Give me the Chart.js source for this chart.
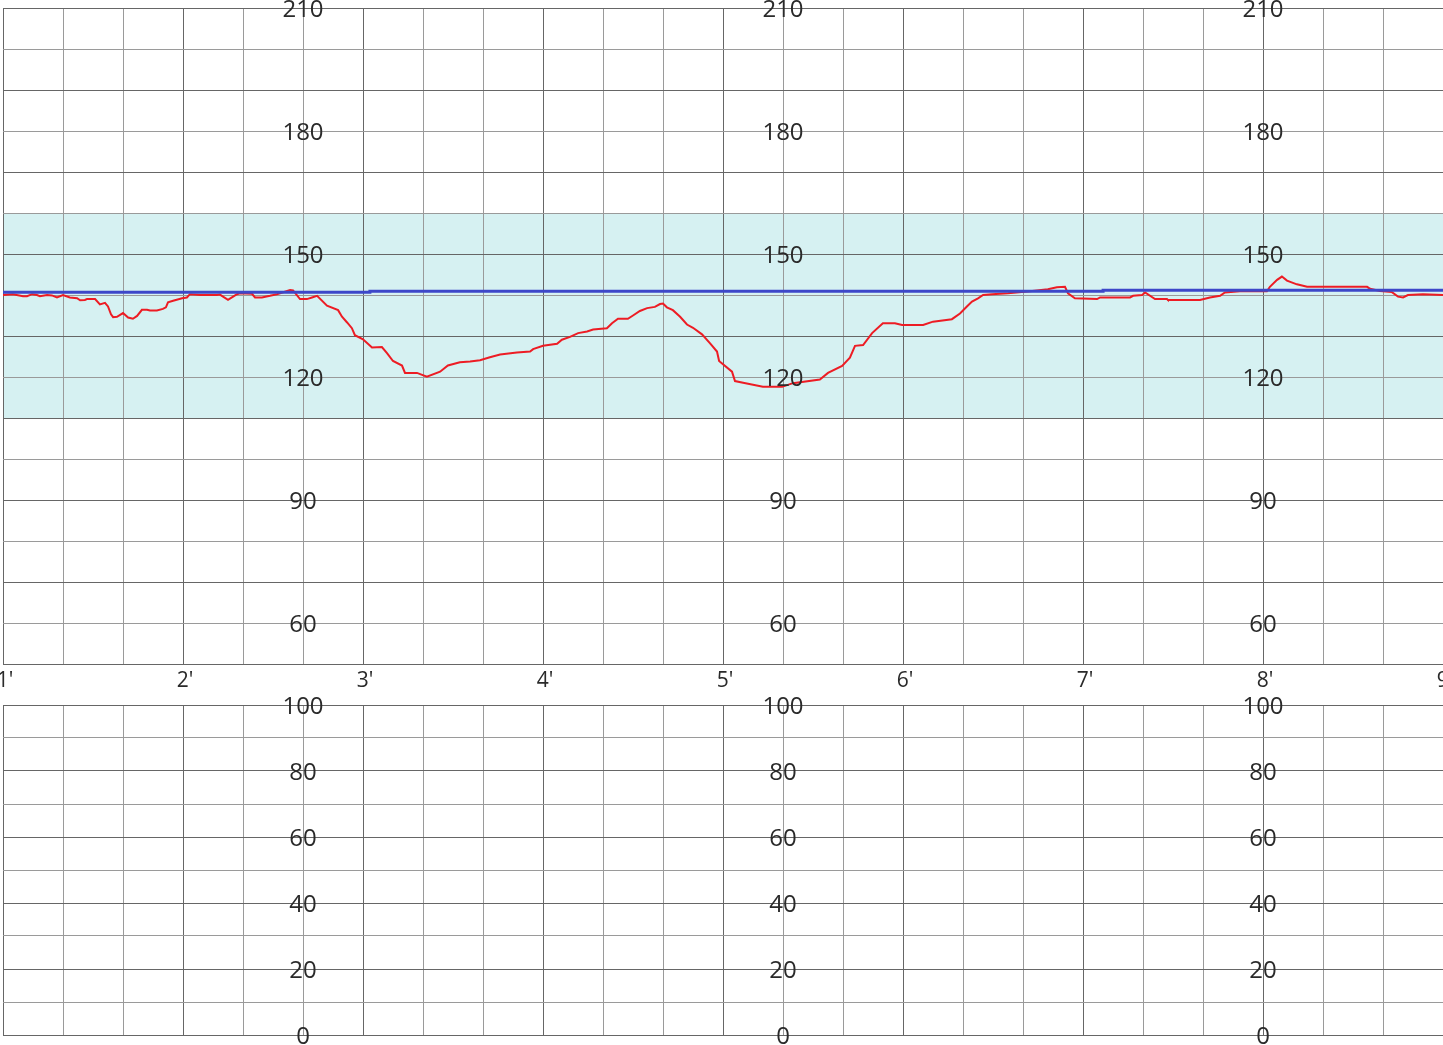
<!DOCTYPE html>
<html>
<head>
<meta charset="utf-8">
<script src="https://cdn.jsdelivr.net/npm/chart.js@4/dist/chart.umd.min.js"></script>
<style>
  html, body { margin: 0; padding: 0; background: #fff; overflow: hidden; }
  body { width: 1443px; height: 1045px; position: relative; }
  canvas { position: absolute; left: 0; }
  #fhr { top: 0; }
  #uc { top: 695px; }
</style>
</head>
<body>
<canvas id="fhr" width="1443" height="695"></canvas>
<canvas id="uc" width="1443" height="350"></canvas>
<script>
// ---- data (time in seconds, values in bpm) ----
const fhrTime = [60,63.3,66.7,68,69.7,71.3,72.3,74.7,76.3,78,80,82.3,84.7,85.7,87.3,88,90.7,92.3,94,95,96,96.7,98,100,101.7,103.3,104.7,106.3,108,109,111.3,113.3,114.3,115,116.7,119.7,121.3,122.3,125.7,131.3,132.3,135,136.7,138,139,143,144,146.3,149,151.3,155.7,156.7,159,161.3,163,164.7,168,171.7,173,174.7,176.3,177.3,180,183,186.3,188,190,193,194,198,201.3,205.7,208.3,212.3,215.7,219,222.3,225.7,231.3,235.7,236.7,240,244.7,246.3,249,251.7,254.7,256.7,261.3,263,265,268.3,270,272.3,274.7,277.3,279,280,281.3,283.3,285.7,288,290,293,295.7,298,298.7,299,303,304,306.7,313.3,319.7,323.3,332.3,335,339.7,342.3,344,346.7,349.7,353.3,357.3,359.7,366.7,370,376.3,379,381.3,383,385,386.7,389.7,395,402.3,408.3,411.3,414,415,417.3,424.7,425.7,435.7,436.7,439.7,440.7,444,448,448.3,459,462.3,465.7,467.3,472.3,481.3,482.3,484.7,486.3,488,491.3,494.7,514.7,515.7,519,523,525,526.7,528.3,533.3,540];
const fhrValue = [140,140.2,139.7,139.7,140.2,140,139.7,140,139.9,139.4,140,139.4,139.2,138.7,138.8,139,139,137.7,138.1,137.2,135.3,134.6,134.7,135.6,134.5,134.2,134.9,136.4,136.4,136.2,136.2,136.6,137,138.2,138.6,139.2,139.4,140.2,140,140,140.1,138.8,139.6,140.2,140.4,140.3,139.4,139.4,139.8,140.2,141.2,141.1,139,139,139.4,139.8,137.4,136.3,134.7,133.3,131.9,130.2,129.2,127.2,127.3,125.8,123.9,122.8,121,121,120.1,121.3,122.8,123.6,123.8,124.1,124.8,125.5,126,126.2,126.8,127.6,128.1,129.1,129.8,130.7,131.1,131.6,131.9,133.1,134.2,134.2,135,136.1,136.8,137.1,137.8,137.9,137,136.3,134.7,132.8,132,130.4,128.2,126.2,123.9,123.7,121.3,119,118.6,117.6,117.6,118.5,119.4,121,122.7,124.7,127.6,127.8,130.7,133.1,133.1,132.7,132.7,133.5,134.1,135.5,137.2,138.4,139.2,140,140.2,140.4,140.9,141.4,141.9,142,140.4,139.2,139,139.4,139.4,139.8,140,140.6,139,139,138.8,138.8,139.4,139.8,140.6,140.9,140.9,142,143.7,144.5,143.5,142.6,142,142,141.5,141,140.7,139.6,139.4,140,140.2,140];
const baseTime = [60,182.3,426.7,540];
const baseValue = [140.7,140.9,141.15,141.15];
const minuteLabels = ["1'","2'","3'","4'","5'","6'","7'","8'","9'"];
const minuteTimes = [60,120,180,240,300,360,420,480,540];
const fhrTickLabels = [60,90,120,150,180,210];
const ucTickLabels = [0,20,40,60,80,100];
const labelTimes = [160,320,480];
const normalBand = [110,160];

const DARK = '#666666', LIGHT = '#9a9a9a';
const FONT = "'Open Sans', 'Noto Sans', sans-serif";

function xScaleOpts() {
  return {
    type: 'linear', min: 60, max: 540,
    ticks: { display: false, stepSize: 20 },
    grid: {
      drawTicks: false, lineWidth: 1,
      color: c => (c.tick && Math.round(c.tick.value) % 60 === 0) ? DARK : LIGHT
    },
    border: { display: false }
  };
}

const bgPlugin = {
  id: 'bg',
  beforeDraw(chart, args, opts) {
    const ctx = chart.ctx;
    ctx.save();
    ctx.fillStyle = '#ffffff';
    ctx.fillRect(0, 0, chart.width, chart.height);
    if (opts.band) {
      const y = chart.scales.y, a = chart.chartArea;
      const top = y.getPixelForValue(opts.band[1]);
      const bot = y.getPixelForValue(opts.band[0]);
      ctx.fillStyle = '#d6f1f2';
      ctx.fillRect(a.left, top, a.right - a.left, bot - top);
    }
    ctx.restore();
  }
};

const labelPlugin = {
  id: 'lbl',
  afterDraw(chart, args, opts) {
    const ctx = chart.ctx, x = chart.scales.x, y = chart.scales.y;
    ctx.save();
    ctx.fillStyle = '#2a2a2a';
    ctx.textAlign = 'center';
    ctx.textBaseline = 'middle';
    ctx.font = '24px ' + FONT;
    labelTimes.forEach(t => {
      opts.yLabels.forEach(v => {
        ctx.fillText(String(v), x.getPixelForValue(t), y.getPixelForValue(v) + 2.5);
      });
    });
    if (opts.xLabels) {
      ctx.font = '21px ' + FONT;
      minuteTimes.forEach((t, i) => {
        ctx.fillText(minuteLabels[i], x.getPixelForValue(t) + 2, chart.chartArea.bottom + 17);
      });
    }
    ctx.restore();
  }
};

new Chart(document.getElementById('fhr'), {
  type: 'line',
  data: {
    datasets: [
      { label: 'Baseline', data: baseTime.map((t, i) => ({ x: t, y: baseValue[i] })),
        borderColor: '#3d47c9', borderWidth: 3, pointRadius: 0, stepped: true, fill: false },
      { label: 'FHR', data: fhrTime.map((t, i) => ({ x: t, y: fhrValue[i] })),
        borderColor: '#ed1c24', borderWidth: 2, pointRadius: 0, tension: 0, fill: false }
    ]
  },
  options: {
    responsive: false, animation: false, devicePixelRatio: 1,
    layout: { padding: { left: 3, right: 0, top: 8, bottom: 31 } },
    plugins: { legend: { display: false }, tooltip: { enabled: false },
      bg: { band: normalBand }, lbl: { yLabels: fhrTickLabels, xLabels: true } },
    scales: {
      x: xScaleOpts(),
      y: {
        type: 'linear', min: 50, max: 210,
        ticks: { display: false, stepSize: 10 },
        grid: { drawTicks: false, lineWidth: 1,
          color: c => (c.tick && (Math.round(c.tick.value) - 50) % 20 === 0) ? DARK : LIGHT },
        border: { display: false }
      }
    }
  },
  plugins: [bgPlugin, labelPlugin]
});

new Chart(document.getElementById('uc'), {
  type: 'line',
  data: { datasets: [{ label: 'UC', data: [], borderColor: '#333', borderWidth: 1, pointRadius: 0 }] },
  options: {
    responsive: false, animation: false, devicePixelRatio: 1,
    layout: { padding: { left: 3, right: 0, top: 10, bottom: 10 } },
    plugins: { legend: { display: false }, tooltip: { enabled: false },
      bg: {}, lbl: { yLabels: ucTickLabels, xLabels: false } },
    scales: {
      x: xScaleOpts(),
      y: {
        type: 'linear', min: 0, max: 100,
        ticks: { display: false, stepSize: 10 },
        grid: { drawTicks: false, lineWidth: 1,
          color: c => (c.tick && Math.round(c.tick.value) % 20 === 0) ? DARK : LIGHT },
        border: { display: false }
      }
    }
  },
  plugins: [bgPlugin, labelPlugin]
});
</script>
</body>
</html>
